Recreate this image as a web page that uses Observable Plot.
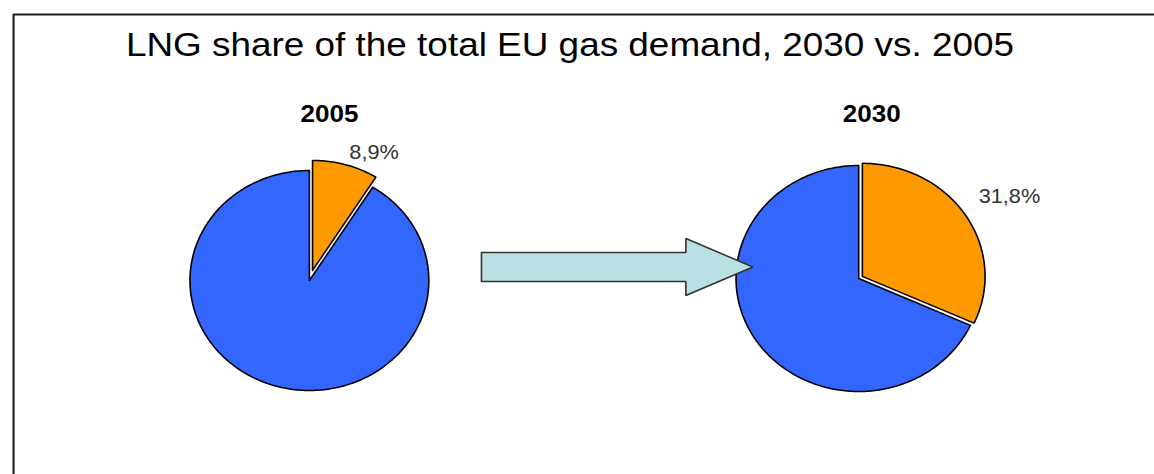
<!DOCTYPE html>
<html>
<head>
<meta charset="utf-8">
<script src="https://cdn.jsdelivr.net/npm/d3@7"></script>
<script src="https://cdn.jsdelivr.net/npm/@observablehq/plot@0.6"></script>
<style>
  html, body { margin: 0; padding: 0; background: #fff; overflow: hidden; }
  #chart svg { display: block; transform-origin: 0 0; }
</style>
</head>
<body>
<div id="chart"></div>
<script>
// ---- data ----
const title = "LNG share of the total EU gas demand, 2030 vs. 2005";
const years = ["2005", "2030"];
const lngShare = [8.9, 31.8];          // percent of total demand
const shareLabels = ["8,9%", "31,8%"];
const sliceNames = ["LNG", "Other"];
const sliceColors = ["#ff9900", "#3366ff"];

// ---- layout (native units, then stretched horizontally) ----
const W = 1063, H = 474, STRETCH = 1154 / 1063;
const pies = [
  {cx: 284.5, cy: 280, r: 110, explode: 10.5, titleDx: 18.5, labelDy: 0},
  {cx: 790.5, cy: 278, r: 113, explode: 4, titleDx: 12, labelDy: -6}
];

const polys = [];
const labelRows = [];
const titleRows = [];
years.forEach((yr, i) => {
  const {cx, cy, r, explode, titleDx, labelDy} = pies[i];
  const a1 = lngShare[i] / 100 * 2 * Math.PI;
  const spans = [[0, a1], [a1, 2 * Math.PI]];
  spans.forEach(([s, e], k) => {
    const mid = (s + e) / 2;
    const off = k === 0 ? explode : 0;
    const ox = cx + off * Math.sin(mid), oy = cy - off * Math.cos(mid);
    const id = yr + "-" + sliceNames[k];
    const n = Math.max(8, Math.ceil((e - s) / (Math.PI / 180)));
    polys.push({id, k, x: ox, y: oy});
    for (let j = 0; j <= n; j++) {
      const a = s + (e - s) * j / n;
      polys.push({id, k, x: ox + r * Math.sin(a), y: oy - r * Math.cos(a)});
    }
    polys.push({id, k, x: ox, y: oy});
    if (k === 0) {
      const d = r + 16;
      labelRows.push({x: cx + d * Math.sin(mid), y: cy - d * Math.cos(mid) + labelDy, text: shareLabels[i]});
    }
  });
  titleRows.push({x: cx + titleDx, y: 121, text: yr});
});

// block arrow between the pies, derived from pie geometry
const p0 = pies[0], p1 = pies[1];
const ax0 = p0.cx + p0.r + 48.5, axTip = p1.cx - p1.r + 15.5, axBase = axTip - 61.7;
const ay = 266.5, shaftH = 14.5, headH = 28.5;
const arrow = [
  [ax0, ay - shaftH], [axBase, ay - shaftH], [axBase, ay - headH], [axTip, ay],
  [axBase, ay + headH], [axBase, ay + shaftH], [ax0, ay + shaftH], [ax0, ay - shaftH]
].map(([x, y]) => ({x, y}));

const chart = Plot.plot({
  width: W, height: H,
  margin: 0,
  x: {domain: [0, W], range: [0, W], axis: null},
  y: {domain: [0, H], range: [0, H], axis: null},
  marks: [
    Plot.ruleY([14], {x1: 12, x2: W + 5, stroke: "#222", strokeWidth: 2}),
    Plot.ruleX([12], {y1: 14, y2: H + 5, stroke: "#222", strokeWidth: 2}),
    Plot.text([title], {x: W / 2 - 7, y: 55, text: d => d, lineAnchor: "bottom",
      fontSize: 34, fontFamily: "Liberation Sans, Arial, sans-serif", fill: "#000",
      textLength: 820, lengthAdjust: "spacingAndGlyphs"}),
    Plot.text(titleRows, {x: "x", y: "y", text: "text", lineAnchor: "bottom",
      fontSize: 24, fontWeight: "bold", fontFamily: "Liberation Sans, Arial, sans-serif", fill: "#000"}),
    Plot.line(polys.filter(d => d.k === 1), {x: "x", y: "y", z: "id", fill: sliceColors[1],
      stroke: "#000", strokeWidth: 1.5, strokeLinejoin: "round"}),
    Plot.line(polys.filter(d => d.k === 0), {x: "x", y: "y", z: "id", fill: sliceColors[0],
      stroke: "#000", strokeWidth: 1.5, strokeLinejoin: "miter"}),
    Plot.line(arrow, {x: "x", y: "y", fill: "#b9e0e3", stroke: "#333", strokeWidth: 1.5, strokeLinejoin: "miter"}),
    Plot.text(labelRows, {x: "x", y: "y", text: "text", textAnchor: "start", lineAnchor: "bottom", dx: 2,
      fontSize: 20, fontFamily: "Liberation Sans, Arial, sans-serif", fill: "#333"})
  ]
});
chart.style.transform = `scaleX(${STRETCH})`;
document.getElementById("chart").appendChild(chart);
</script>
</body>
</html>
